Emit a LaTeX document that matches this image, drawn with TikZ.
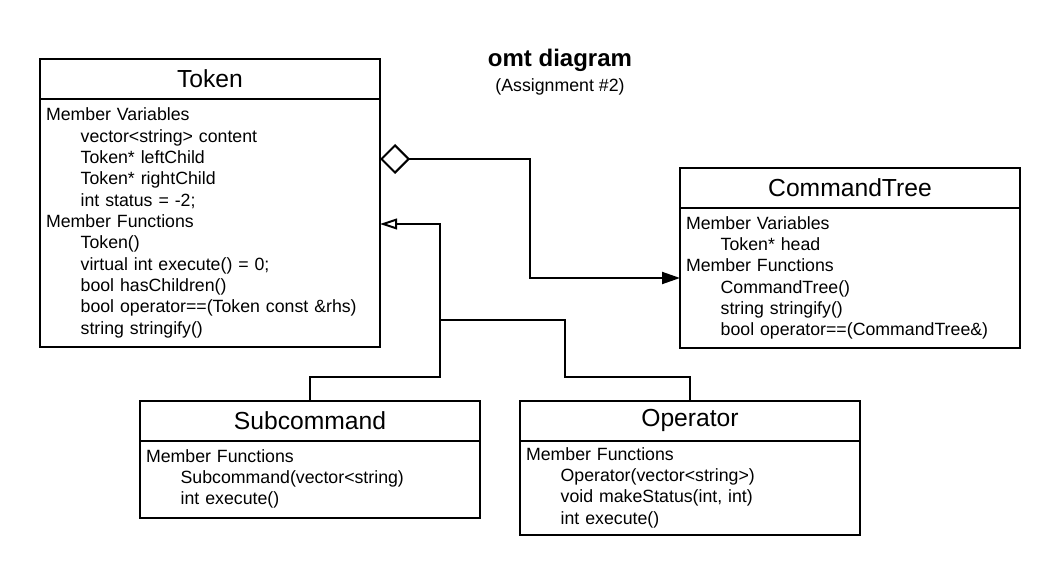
\documentclass[tikz,border=0pt]{standalone}
\usepackage{fontspec}
\setmainfont{Liberation Sans}
\usetikzlibrary{arrows.meta}
\usetikzlibrary{positioning}
\tikzset {
  class node/.style = {
    draw = black,
    line width = 1.5pt,
    outer sep = 0pt,
    minimum width = 255pt
  },
  % class name row
  class title/.style = {
    class node,
    minimum height = 30pt,
    font = \fontsize{18.5}{22}\selectfont
  },
  % member list row
  class body/.style = {
    class node,
    text width = 246pt,
    inner xsep = 4.5pt,
    align = left,
    font = \fontsize{13.3}{16}\selectfont
  },
  node distance = 0pt
}
\tikzset {
  connector/.style = {
    draw = black,
    line width = 1.5pt
  },
  % aggregation: open diamond to filled head
  aggr/.style = {
    connector,
    {Diamond[open, length=22.5pt, width=22.5pt]}-{Triangle[length=13.5pt, width=9pt]}
  },
  % generalisation: open triangle
  inherit/.style = {
    connector,
    {Triangle[open, length=12.75pt, width=8pt]}-
  }
}
\newcommand{\mem}[1]{\hspace*{26pt}#1}

\begin{document}
\begin{tikzpicture}[x=0.75pt, y=-0.75pt]
    \useasboundingbox (0,0) rectangle (1060,577);

    \node[font=\fontsize{18}{21}\selectfont\bfseries] (title) at (560,60) {omt diagram};
    \node[font=\fontsize{13.3}{16}\selectfont] (subtitle) at (560,86.5) {(Assignment \#2)};

    \node[class title] (token) at (210,79) {Token};
    \node[class body, minimum height=186pt] (tokenbody) [below=of token] {Member Variables\\
      \mem{vector<string> content}\\
      \mem{Token* leftChild}\\
      \mem{Token* rightChild}\\
      \mem{int status = -2;}\\
      Member Functions\\
      \mem{Token()}\\
      \mem{virtual int execute() = 0;}\\
      \mem{bool hasChildren()}\\
      \mem{bool operator==(Token const \&rhs)}\\
      \mem{string stringify()}};

    \node[class title] (ctree) at (850,188) {CommandTree};
    \node[class body, minimum height=105pt] (ctreebody) [below=of ctree] {Member Variables\\
      \mem{Token* head}\\
      Member Functions\\
      \mem{CommandTree()}\\
      \mem{string stringify()}\\
      \mem{bool operator==(CommandTree\&)}};

    \node[class title] (subcommand) at (310,420.5) {Subcommand};
    \node[class body, minimum height=57.75pt] (subcommandbody) [below=of subcommand] {Member Functions\\
      \mem{Subcommand(vector<string)}\\
      \mem{int execute()}};

    \node[class title] (operator) at (690,420.5) {Operator};
    \node[class body, minimum height=70.5pt] (operatorbody) [below=of operator] {Member Functions\\
      \mem{Operator(vector<string>)}\\
      \mem{void makeStatus(int, int)}\\
      \mem{int execute()}};

    \coordinate (aggbend) at (530,159);
    \coordinate (inhtip) at (440,224);
    \coordinate (subbend) at (440,376.5);
    \coordinate (opbend) at (565,376.5);
    \coordinate (inhjoin) at (440,320);

    \draw[aggr] (tokenbody.east |- aggbend) -- (aggbend) |- (ctreebody.west);
    \draw[inherit] (tokenbody.east |- inhtip) -- (inhtip) -- (subbend) -| (subcommand.north);
    \draw[connector] (operator.north) |- (opbend) |- (inhjoin);
  \end{tikzpicture}
\end{document}
